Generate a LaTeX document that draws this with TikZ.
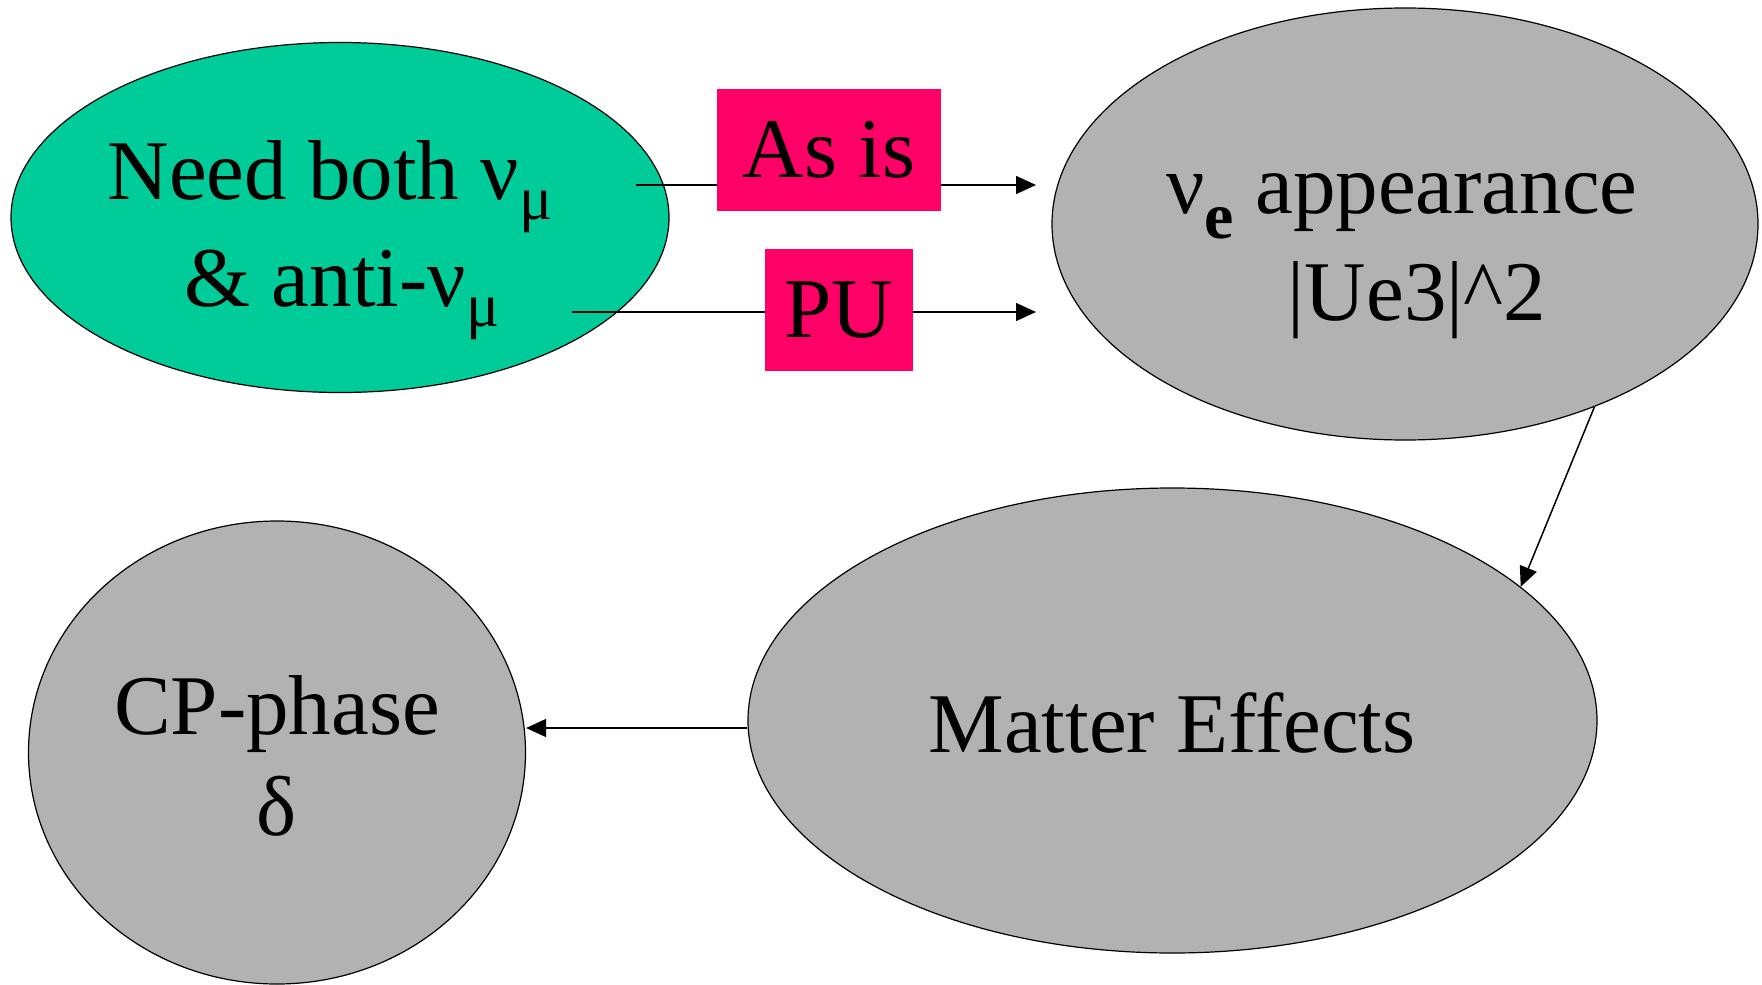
\documentclass[tikz,border=0pt]{standalone}
\usepackage{fontspec}
\setmainfont{Liberation Serif}
\usetikzlibrary{arrows.meta,shapes.geometric}
\definecolor{mint}{RGB}{0,204,153}
\definecolor{rosered}{RGB}{255,0,102}
\definecolor{slate}{RGB}{178,178,178}
\newcommand\bigtext{\fontsize{85}{100}\selectfont}
\newcommand\lowsub[1]{\raisebox{-20pt}{\fontsize{62}{70}\selectfont #1}}
\tikzset{
  bubble/.style={ellipse, draw=black, line width=1.2pt, inner sep=0pt},
  tag/.style={fill=rosered, inner sep=0pt, font=\bigtext},
  txt/.style={anchor=base, inner sep=0pt, font=\bigtext},
  arr/.style={line width=1.5pt, -{Triangle[length=20pt,width=18pt]}},
}
\begin{document}
\begin{tikzpicture}[x=1pt,y=-1pt]
\useasboundingbox (0,0) rectangle (1762,985);

% ellipses
\node[bubble, fill=mint,  minimum width=658pt, minimum height=350pt] (need) at (340,217.5) {};
\node[bubble, fill=slate, minimum width=706pt, minimum height=432pt] (ve)   at (1405,224) {};
\node[bubble, fill=slate, minimum width=849pt, minimum height=465pt] (me)   at (1172.5,720.5) {};
\node[bubble, fill=slate, minimum width=497pt, minimum height=463pt] (cp)   at (277,752.5) {};

% arrow start and end points inside / beside the ellipses
\coordinate (s1) at (636,185);
\coordinate (e1) at (1036,185);
\coordinate (s2) at (572,312);
\coordinate (e2) at (1036,312);

% connectors
\draw[arr] (s1) -- (e1);
\draw[arr] (s2) -- (e2);
\draw[arr] (ve.-44.1) -- (me.21.8);
\draw[arr] ([yshift=-7.5pt]me.west) -- ([yshift=24.5pt]cp.east);

% labels on the two upper arrows
\node[tag, minimum width=224pt, minimum height=122pt] (asis) at (829,150) {As is};
\node[tag, minimum width=148pt, minimum height=122pt] (pu)   at (839,310) {PU};

% ellipse texts
\node[txt] (need1) at (330,199) {Need both ν\lowsub{μ}};
\node[txt] (need2) at (342,306) {\& anti-ν\lowsub{μ}};
\node[txt] (ve1) at (1402,213) {ν\raisebox{-25pt}{\fontsize{66}{70}\selectfont\bfseries e} appearance};
\node[txt] (ve2) at (1417,320) {|Ue3|\textasciicircum 2};
\node[txt] (me1) at (1172,752) {Matter Effects};
\node[txt] (cp1) at (277,734) {CP-phase};
\node[txt] (cp2) at (277,835) {δ};
\end{tikzpicture}
\end{document}
